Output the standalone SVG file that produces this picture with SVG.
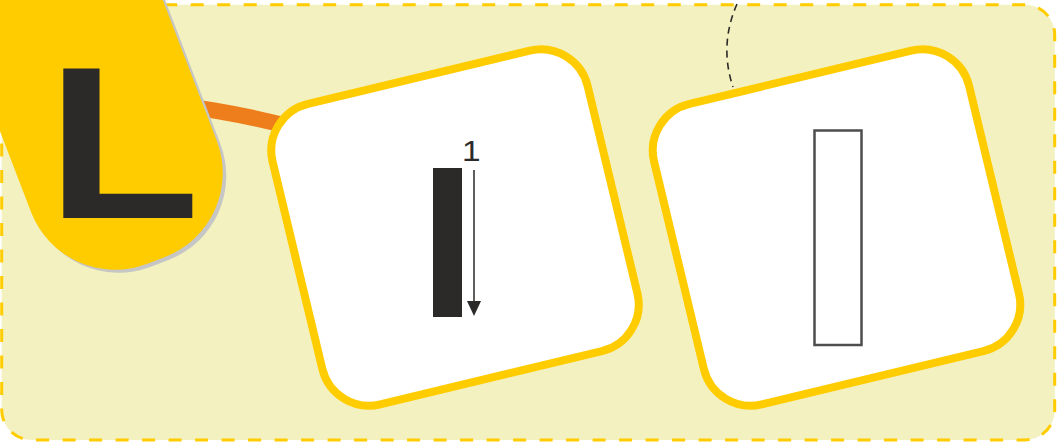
<svg xmlns="http://www.w3.org/2000/svg" width="1057" height="444" viewBox="0 0 1057 444">
  <style>
    .bg { fill: #F3F1BF; stroke: #FFCC00; stroke-width: 3; stroke-dasharray: 13 13.5; }
    .card { fill: #FFFFFF; stroke: #FFCC00; stroke-width: 8; }
    .dark { fill: #2B2A29; }
    .lbl { font-family: "Liberation Sans", Arial, sans-serif; fill: #2B2A29; }
  </style>
  <defs>
    <marker id="arrow" viewBox="0 0 15 14" refX="0" refY="7" markerWidth="15" markerHeight="14" markerUnits="userSpaceOnUse" orient="auto">
      <path d="M0,0 L15,7 L0,14 Z" fill="#2B2A29"/>
    </marker>
  </defs>

  <rect id="background" class="bg" x="1.7" y="4.7" width="1053" height="435.3" rx="30" ry="30"/>

  <g id="connectors">
    <path d="M175,105 Q235,112 295,128" fill="none" stroke="#EE7E1C" stroke-width="16"/>
    <path d="M737,4 Q719,45 733,87" fill="none" stroke="#2B2A29" stroke-width="1.6" stroke-dasharray="7 5"/>
  </g>

  <g id="badge-L">
    <rect transform="translate(3.5,3) rotate(-21)" x="-47" y="-200" width="199" height="499" rx="90" ry="90" fill="#C6C6C6"/>
    <rect transform="rotate(-21)" x="-47" y="-200" width="199" height="499" rx="90" ry="90" fill="#FFCC00"/>
    <text class="lbl" transform="translate(65,218) scale(1.153,1)" x="-16" y="0" font-size="218" font-weight="bold">L</text>
  </g>

  <g id="node-1">
    <rect class="card" transform="translate(455,227.5) rotate(-13.5)" x="-162" y="-154.5" width="324" height="309" rx="48" ry="48"/>
    <rect class="dark" x="433" y="168" width="29" height="149"/>
    <line x1="474" y1="170" x2="474" y2="301" stroke="#2B2A29" stroke-width="1.5" marker-end="url(#arrow)"/>
    <text class="lbl" transform="translate(462,161) scale(1.15,1)" x="0" y="0" font-size="29">1</text>
  </g>

  <g id="node-2">
    <rect class="card" transform="translate(836.5,227.5) rotate(-13.5)" x="-162" y="-154.5" width="324" height="309" rx="48" ry="48"/>
    <rect x="814.5" y="130.5" width="47" height="214.5" fill="#FFFFFF" stroke="#4D4D4D" stroke-width="2.5"/>
  </g>
</svg>
